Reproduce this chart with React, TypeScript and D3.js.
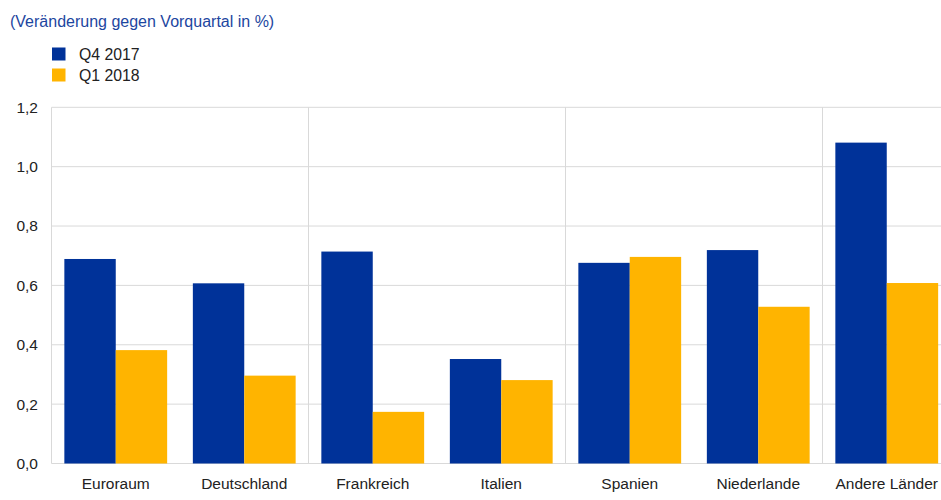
import * as d3 from "d3";

const categories = [
  "Euroraum",
  "Deutschland",
  "Frankreich",
  "Italien",
  "Spanien",
  "Niederlande",
  "Andere Länder",
];
const seriesNames = ["Q4 2017", "Q1 2018"];
const q4_2017 = [0.689, 0.607, 0.714, 0.352, 0.676, 0.719, 1.081];
const q1_2018 = [0.382, 0.296, 0.174, 0.281, 0.696, 0.528, 0.608];
const yTicks = [0, 0.2, 0.4, 0.6, 0.8, 1.0, 1.2];
const colors = ["#003299", "#ffb400"];

const W = 941;
const H = 500;
const left = 51.5;
const top = 107.3;
const bottom = 463.5;
const bandW = 128.5;

export default function App() {
  const x = d3
    .scaleBand<string>()
    .domain(categories)
    .range([left, left + bandW * categories.length])
    .paddingInner(0.2)
    .paddingOuter(0.1);
  const xs = d3
    .scaleBand<string>()
    .domain(seriesNames)
    .range([0, x.bandwidth()]);
  const y = d3.scaleLinear().domain([0, 1.2]).range([bottom, top]);
  const fmt = (v: number) => d3.format(".1f")(v).replace(".", ",");
  const series = [q4_2017, q1_2018];
  const grid = "#d9d9d9";
  const font = "'Liberation Sans', Arial, sans-serif";

  return (
    <svg
      width={W}
      height={H}
      style={{ position: "absolute", left: 0, top: 0 }}
      fontFamily={font}
    >
      <text x={10} y={27} fontSize={16} fill="#1d46a0">
        (Veränderung gegen Vorquartal in %)
      </text>

      {seriesNames.map((s, i) => (
        <g key={s} transform={`translate(52,${47.5 + i * 21})`}>
          <rect width={13.5} height={13} fill={colors[i]} />
          <text x={27} y={12.5} fontSize={15.8} fill="#222">
            {s}
          </text>
        </g>
      ))}

      {yTicks.map((t) => (
        <g key={t}>
          <line
            x1={left}
            x2={W}
            y1={y(t)}
            y2={y(t)}
            stroke={grid}
            strokeWidth={1}
          />
          <text
            x={38}
            y={y(t)}
            dy="0.35em"
            textAnchor="end"
            fontSize={15.5}
            fill="#222"
          >
            {fmt(t)}
          </text>
        </g>
      ))}

      {d3.range(0, categories.length + 1, 2).map((i) => {
        const xv = left + i * bandW;
        return (
          <line
            key={i}
            x1={xv}
            x2={xv}
            y1={top}
            y2={bottom}
            stroke={grid}
            strokeWidth={1}
          />
        );
      })}

      {categories.map((c, ci) => (
        <g key={c} transform={`translate(${x(c)},0)`}>
          {series.map((vals, si) => (
            <rect
              key={si}
              x={xs(seriesNames[si])}
              y={y(vals[ci])}
              width={xs.bandwidth()}
              height={bottom - y(vals[ci])}
              fill={colors[si]}
            />
          ))}
          <text
            x={x.bandwidth() / 2}
            y={488.5}
            textAnchor="middle"
            fontSize={15.5}
            fill="#222"
          >
            {c}
          </text>
        </g>
      ))}
    </svg>
  );
}
